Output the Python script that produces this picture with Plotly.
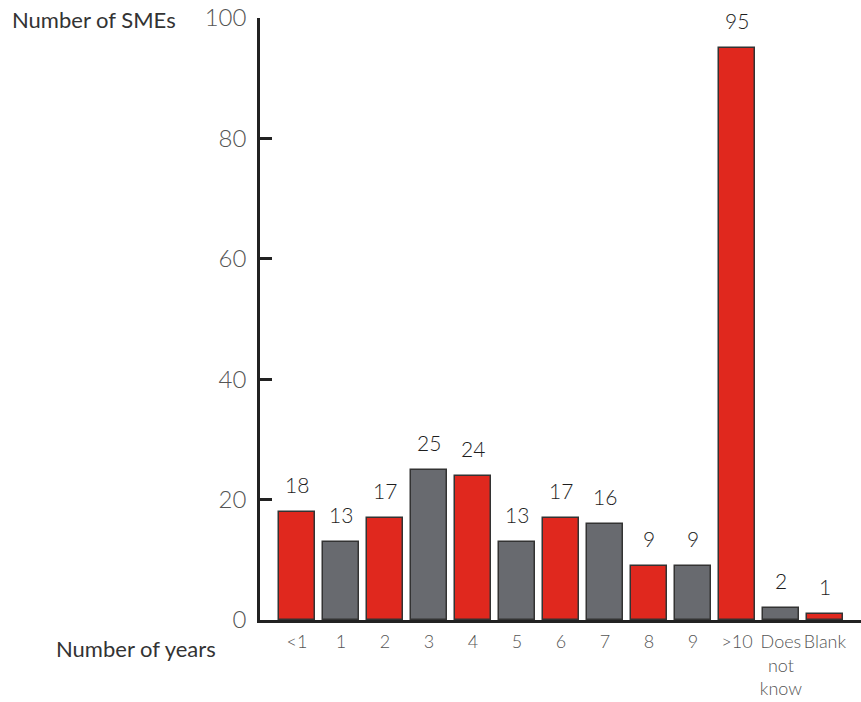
import plotly.graph_objects as go

# Years an SME has been operating, and number of SMEs in each group
categories = ["<1", "1", "2", "3", "4", "5", "6", "7", "8", "9", ">10", "Does<br>not<br>know", "Blank"]
counts = [18, 13, 17, 25, 24, 13, 17, 16, 9, 9, 95, 2, 1]
bar_colours = ["#E0281E", "#686A6F", "#E0281E", "#686A6F", "#E0281E", "#686A6F",
               "#E0281E", "#686A6F", "#E0281E", "#686A6F", "#E0281E", "#686A6F", "#E0281E"]
y_ticks = [0, 20, 40, 60, 80, 100]

positions = list(range(len(categories)))

fig = go.Figure()
fig.add_trace(go.Bar(
    x=positions,
    y=counts,
    width=0.82,
    marker=dict(color=bar_colours, line=dict(color="#333333", width=1.5)),
    hoverinfo="skip",
))

# value labels above each bar
for xi, v in zip(positions, counts):
    fig.add_annotation(
        x=xi, y=v, text=str(v), showarrow=False,
        xanchor="center", yanchor="bottom", yshift=13,
        font=dict(family="Lato", size=21, color="#1e1e1e", weight=300),
    )

fig.add_annotation(
    xref="paper", yref="paper", x=-0.137, y=0.997,
    xanchor="right", yanchor="middle", text="Number of SMEs", showarrow=False,
    font=dict(family="Lato", size=22, color="#333333"),
)
fig.add_annotation(
    xref="paper", yref="paper", x=-0.07, y=-0.048,
    xanchor="right", yanchor="middle", text="Number of years", showarrow=False,
    font=dict(family="Lato", size=22, color="#333333"),
)

fig.update_xaxes(
    range=[-0.84, 12.82],
    tickmode="array", tickvals=positions, ticktext=categories,
    tickangle=0,
    showline=True, linecolor="#222222", linewidth=2.5,
    showgrid=False, zeroline=False, ticks="",
    tickfont=dict(family="Lato", size=18, color="#555555", weight=300),
    ticklabelstandoff=4,
)
fig.update_yaxes(
    range=[0, 100],
    tickmode="array", tickvals=y_ticks,
    showline=True, linecolor="#222222", linewidth=2.5,
    showgrid=False, zeroline=False,
    ticks="inside", ticklen=12, tickwidth=2.5, tickcolor="#222222",
    tickfont=dict(family="Lato", size=24, color="#555555", weight=300),
    ticklabelstandoff=6,
)

fig.update_layout(
    width=861, height=702,
    margin=dict(l=260, r=0, t=18, b=82),
    paper_bgcolor="white", plot_bgcolor="white",
    showlegend=False, bargap=0,
)

fig.write_html("out.html")
